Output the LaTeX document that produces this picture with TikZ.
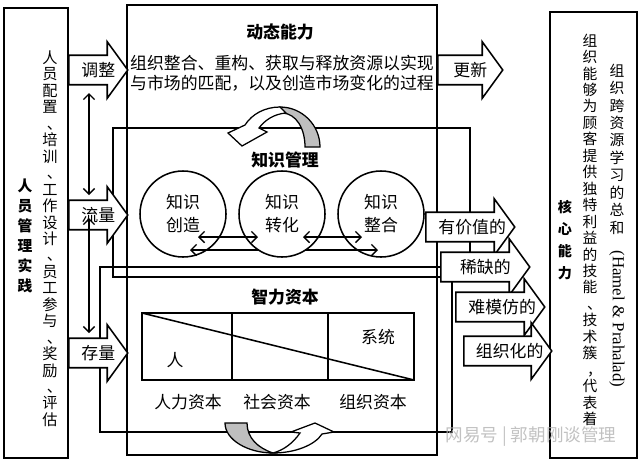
\documentclass[tikz,border=0pt]{standalone}
\usepackage{fontspec}
\setmainfont{Noto Sans CJK SC}
\newfontfamily\latinserif{Liberation Serif}
\usetikzlibrary{shapes.arrows,arrows.meta,calc}
\newcommand{\pxu}{0.025cm}
\newcommand{\vpunct}[1]{\makebox[1em][l]{\kern0.3em #1}}

\begin{document}
\begin{tikzpicture}[x=0.025cm,y=-0.025cm,line width=1.1pt,font=\fontsize{12}{14.2}\selectfont]
\tikzstyle{flowarrow}=[single arrow,draw=black,fill=white,anchor=tail,inner xsep=0pt,inner ysep=4.2pt,text height=9pt,text depth=2.5pt,single arrow head extend=9.6pt,single arrow tip angle=108]
\tikzstyle{dblarrow}=[{Straight Barb[length=4pt,width=8pt]}-{Straight Barb[length=4pt,width=8pt]},line width=1pt]
\tikzstyle{bubble}=[draw=black,circle,minimum size=86*\pxu,inner sep=0pt,align=center,font=\fontsize{12}{16.4}\selectfont]
\tikzstyle{vtext}=[align=center,inner sep=0pt,anchor=north]
\tikzstyle{title}=[font=\fontsize{12}{14}\selectfont\bfseries]
\tikzstyle{band}=[draw=black,line width=0.9pt]

\useasboundingbox (0,0) rectangle (640,462);
% panels and frames
\draw (4,8) rectangle (68,458);
\draw (550,12) rectangle (637,458);
\draw (127,5) rectangle (437,455);
\draw (113,128) rectangle (470,277);
\draw (100,267) rectangle (452,432);

% dynamic capability
\node [title] (dyntitle) at (280,32) {动态能力};
\node [align=center] (dyntext) at (282,73) {组织整合、重构、获取与释放资源以实现\\与市场的匹配，以及创造市场变化的过程};

% knowledge management
\node [title] (kmtitle) at (285,160) {知识管理};
\node [bubble] (c1) at (183,214) {知识\\创造};
\node [bubble] (c3) at (381,214) {知识\\整合};
\draw [dblarrow] ($(c1)+(7,36)$) -- ($(c3)+(-3,36)$);
\node [bubble,fill=white] (c2) at (282,214) {知识\\转化};
\draw [dblarrow] ($(c1)+(15,23)$) -- ($(c2)+(-24,23)$);
\draw [dblarrow] ($(c2)+(21,23)$) -- ($(c3)+(-19,23)$);

% intellectual capital
\node [title] (ictitle) at (285,297) {智力资本};
\draw (142,313) rectangle (414,380);
\draw (232,313) -- (232,380);
\draw (328,313) -- (328,380);
\draw (142,313) -- (414,380);
\node (ren) at (175,360) {人};
\node (sys) at (378,337) {系统};
\node (hc) at (188,402) {人力资本};
\node (sc) at (277,402) {社会资本};
\node (oc) at (373,402) {组织资本};

% curved arrows
\filldraw [band,fill=gray!50] (320,147) .. controls (320,125) and (302,107) .. (280,107) -- (283,113) .. controls (296,114) and (305,128) .. (305,147) -- cycle;
\filldraw [band,fill=white] (280,107) .. controls (265,107) and (252,114) .. (245,125) -- (228,133) -- (242,146) -- (267,132) -- (259,128) .. controls (265,120) and (274,114) .. (286,113) -- cycle;
\filldraw [band,fill=gray!50] (225,423) -- (247,423) .. controls (247,438) and (258,448) .. (273,453) .. controls (248,453) and (225,440) .. (225,423) -- cycle;
\filldraw [band,fill=white] (273,453) .. controls (295,453) and (315,445) .. (322,434) -- (334,432) -- (315,423) -- (291,432) -- (300,433) .. controls (293,443) and (284,450) .. (273,453) -- cycle;

% left side
\node [vtext,font=\fontsize{10.5}{14.2}\selectfont\bfseries] (hrm) at (25,178) {人\\员\\管\\理\\实\\践};
\node [vtext,font=\fontsize{10.8}{11.7}\selectfont] (hrlist) at (50,50) {人\\员\\配\\置\\\vpunct{、}\\培\\训\\\vpunct{、}\\工\\作\\设\\计\\\vpunct{、}\\员\\工\\参\\与\\\vpunct{、}\\奖\\励\\\vpunct{、}\\评\\估};
\node [flowarrow,minimum height=59*\pxu] (adj) at (68,70) {};
\node [flowarrow,minimum height=59*\pxu] (flow) at (68,215) {};
\node [flowarrow,minimum height=59*\pxu] (stock) at (68,353) {};
\node (adjt) at ($(adj.tail)!0.5!(adj.tip)$) {调整};
\node (flowt) at ($(flow.tail)!0.5!(flow.tip)$) {流量};
\node (stockt) at ($(stock.tail)!0.5!(stock.tip)$) {存量};
\coordinate (v1) at (89,93);
\coordinate (v2) at (89,195);
\coordinate (v3) at (89,218);
\coordinate (v4) at (89,333);
\draw [dblarrow] (v1) -- (v2);
\draw [dblarrow] (v3) -- (v4);

% right side
\node [flowarrow,minimum height=65*\pxu] (renew) at (437,70) {};
\node (renewt) at ($(renew.tail)!0.5!(renew.tip)$) {更新};
\node [flowarrow,minimum height=89*\pxu] (val) at (425,227) {};
\node (valt) at ($(val.tail)!0.52!(val.tip)$) {有价值的};
\node [flowarrow,minimum height=89*\pxu] (rare) at (440,267) {};
\node (raret) at ($(rare.tail)!0.5!(rare.tip)$) {稀缺的};
\node [flowarrow,minimum height=89*\pxu] (inim) at (455,307) {};
\node (inimt) at ($(inim.tail)!0.52!(inim.tip)$) {难模仿的};
\node [flowarrow,minimum height=88*\pxu] (orgd) at (463,351) {};
\node (orgdt) at ($(orgd.tail)!0.52!(orgd.tip)$) {组织化的};
\node [vtext,font=\fontsize{10}{15.6}\selectfont\bfseries] (core) at (565,200) {核\\心\\能\\力};
\node [vtext,font=\fontsize{10.5}{11.7}\selectfont] (coredef) at (590,33) {组\\织\\能\\够\\为\\顾\\客\\提\\供\\独\\特\\利\\益\\的\\技\\能\\\vpunct{、}\\技\\术\\簇\\\vpunct{，}\\代\\表\\着};
\node [vtext,font=\fontsize{10.5}{12.4}\selectfont] (hamel) at (617,63) {组\\织\\跨\\资\\源\\学\\习\\的\\总\\和\\\rotatebox{-90}{\latinserif\fontsize{12}{14}\selectfont (Hamel \& Prahalad)}};

\node [text=gray!60,opacity=0.8,font=\fontsize{12.5}{14}\selectfont] (mark) at (531,437) {网易号 | 郭朝刚谈管理};
\end{tikzpicture}
\end{document}
